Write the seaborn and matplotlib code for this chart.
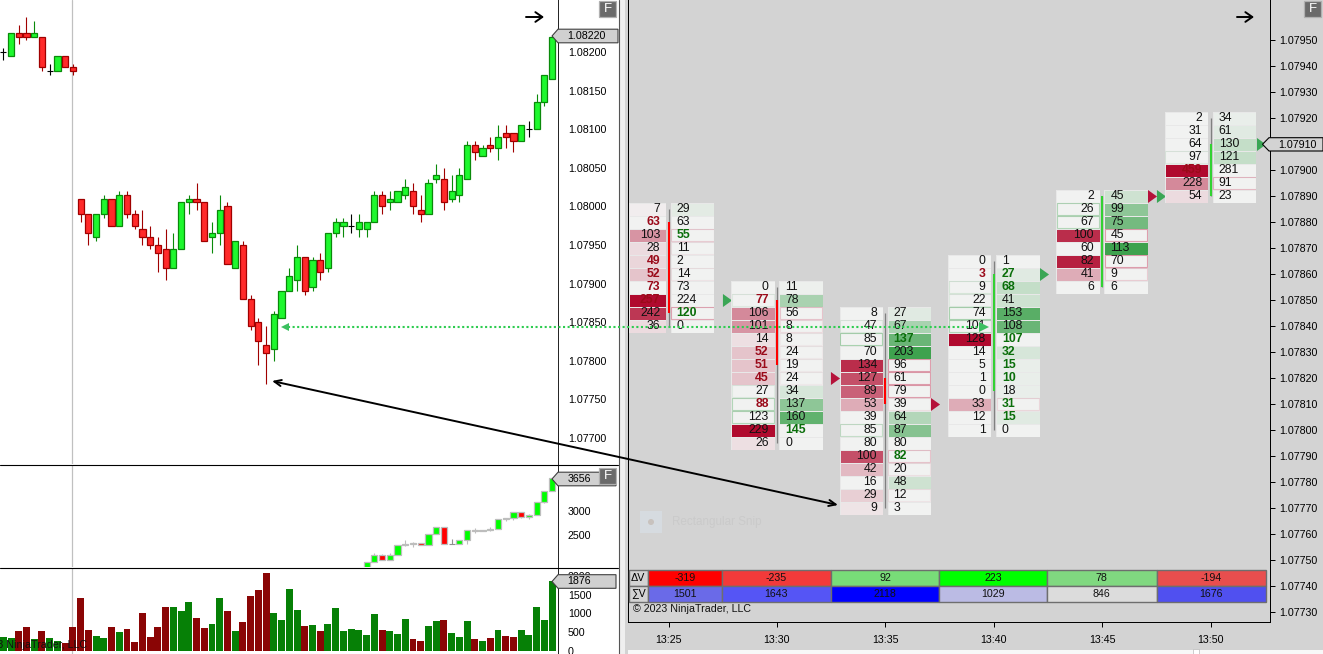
import matplotlib
matplotlib.use("Agg")
import matplotlib.pyplot as plt
from matplotlib.colors import LinearSegmentedColormap
from matplotlib.patches import Rectangle, Polygon, Circle
import numpy as np
import seaborn as sns

W, H = 1323, 654
PRICE_BASE = 1.08
PRICE_TICK = 0.00005

# left chart, candle bodies and wicks in ticks above 1.08000
body_top = [40,45,45,45,45,44,35,39,39,36,
            2,-2,-2,2,2,3,3,-2,-6,-8,
            -10,-11,-11,1,2,2,1,-7,-1,0,
            -9,-10,-24,-30,-36,-28,-22,-18,-13,-13,
            -14,-14,-7,-4,-4,-5,-4,-4,3,3,
            2,4,5,4,-1,6,8,7,4,8,
            16,16,15,16,18,19,19,21,20,27,
            34,44]
body_bot = [40,39,44,44,44,36,35,35,36,35,
            -2,-7,-8,-2,-5,-5,-2,-5,-8,-10,
            -12,-16,-16,-11,1,1,-9,-8,-7,-15,
            -16,-24,-31,-35,-38,-37,-29,-22,-19,-22,
            -21,-17,-16,-7,-5,-5,-6,-6,-4,0,
            1,1,3,0,-2,-2,7,1,2,3,
            7,14,13,15,15,18,17,17,20,20,
            27,33]
wick_high = [41,45,47,49,48,44,37,39,39,37,
             2,-2,-2,3,2,4,4,-1,-1,-5,
             -8,-6,-7,1,3,6,1,-4,3,1,
             -9,-9,-23,-29,-31,-27,-22,-16,-10,-13,
             -13,-12,-7,-3,-3,-2,-2,-4,4,4,
             4,4,7,6,3,7,11,10,8,10,
             17,17,16,18,21,21,19,21,22,29,
             34,44]
wick_low = [38,39,42,43,44,35,34,35,36,34,
            -4,-10,-9,-3,-5,-5,-3,-6,-10,-11,
            -17,-19,-16,-11,-2,-1,-9,-12,-10,-15,
            -16,-24,-32,-41,-46,-40,-29,-22,-22,-23,
            -22,-19,-17,-8,-8,-7,-8,-8,-4,-2,
            -1,1,2,-2,-4,-2,6,-1,1,1,
            7,12,13,14,12,15,14,17,18,20,
            26,33]
candle_dir = list("nuddudnudd" "dduududddd" "dduuudduud" "udddduuuud"
                  "uduuunuuud" "uuudduuduu" "udududdunu" "uu")

# middle chart, from candle 47 on
mid_first = 47
mid_dir = list("uuduuuuduudnuuduuuuuduuuu")
mid_top = [1966,2108,2108,2108,2310,2331,2351,2351,2534,2662,2662,2331,2412,2615,2615,2615,2628,2831,2858,2980,2980,2912,3183,3406,3656]
mid_bot = [1800,1966,2006,2006,2108,2297,2331,2310,2310,2534,2331,2331,2331,2412,2594,2594,2615,2628,2831,2858,2878,2878,2919,3183,3406]
mid_high = [1966,2141,2121,2141,2310,2405,2365,2351,2534,2662,2662,2425,2412,2615,2642,2615,2669,2831,2858,2980,2980,2932,3183,3406,3656]
mid_low = [1800,1966,2006,2006,2108,2283,2256,2310,2310,2534,2331,2331,2331,2331,2554,2594,2594,2628,2797,2817,2858,2838,2919,3162,3406]

volume = [367,340,529,636,314,529,340,260,206,636,
          1416,556,394,340,636,502,582,233,1012,367,
          636,1174,1174,1066,1308,878,609,717,1416,1066,
          529,770,1469,1631,2088,1012,824,1658,1093,663,
          690,529,717,1147,529,582,556,421,986,556,
          529,448,851,314,260,663,797,824,475,367,
          797,314,260,340,556,394,367,556,421,1174,
          824,1876]
volume_dir = list("uudduduudd" "dduududddd" "dduuudduud" "udddduuuud"
                  "uduuuuuuud" "uuudduuduu" "udududduuu" "uu")

# footprint clusters, one list per column
bid_1 = [7,63,103,28,49,52,73,257,242,36]
ask_1 = [29,63,55,11,2,14,73,224,120,0]
bid_shade_1 = [.02,0,.4,.1,.12,.2,0,1,.8,.1]
ask_shade_1 = [.08,0,0,0,0,0,0,0,0,0]
bid_bold_1 = [0,1,0,0,1,1,1,1,0,0]
ask_bold_1 = [0,0,1,0,0,0,0,0,1,0]
bid_edge_1 = [0,0,0,0,0,0,0,0,0,0]
ask_edge_1 = [0,0,.2,.08,0,.08,0,0,.4,0]

bid_2 = [0,77,106,101,14,52,51,45,27,88,123,229,26]
ask_2 = [11,78,56,8,8,24,19,24,34,137,160,145,0]
bid_shade_2 = [0,0,.45,.4,.08,.2,.2,.2,0,0,0,1,.08]
ask_shade_2 = [.03,.4,0,0,0,0,0,0,.15,.55,.8,0,0]
bid_bold_2 = [0,1,0,0,0,1,1,1,0,1,0,0,0]
ask_bold_2 = [0,0,0,0,0,0,0,0,0,0,0,1,0]
bid_edge_2 = [0,.1,0,0,0,0,0,0,.1,.35,.35,0,0]
ask_edge_2 = [0,0,.25,.12,.05,.05,.05,.05,0,0,0,0,0]

bid_3 = [8,47,85,70,134,127,89,53,39,85,80,100,42,16,29,9]
ask_3 = [27,67,137,203,96,61,79,39,64,87,80,82,20,48,12,3]
bid_shade_3 = [0,0,0,0,.85,.7,.62,.3,0,0,0,.7,.25,0,.15,.06]
ask_shade_3 = [.1,.4,.75,1,0,0,0,0,.35,.6,0,0,0,.2,0,0]
bid_bold_3 = [0]*16
ask_bold_3 = [0,0,1,0,0,0,0,0,0,0,0,1,0,0,0,0]
bid_edge_3 = [0,.1,.4,0,0,0,0,0,0,.25,0,0,0,0,0,0]
ask_edge_3 = [0,0,0,0,.45,.45,.45,.1,0,0,0,.25,.1,0,.08,0]

bid_4 = [0,3,9,22,74,101,128,14,5,1,0,33,12,1]
ask_4 = [1,27,68,41,153,108,107,32,15,10,18,31,15,0]
bid_shade_4 = [0,0,0,0,0,0,1,0,0,0,0,.3,0,0]
ask_shade_4 = [0,.1,.25,.2,.85,.75,0,.15,.05,.05,.05,0,.1,0]
bid_bold_4 = [0,1,0,0,0,0,0,0,0,0,0,0,0,0]
ask_bold_4 = [0,1,1,0,0,0,1,1,1,1,0,1,1,0]
bid_edge_4 = [0,0,.15,.1,.4,.35,0,0,0,0,0,0,0,0]
ask_edge_4 = [0,0,0,0,0,0,0,0,0,0,0,.15,0,0]

bid_5 = [2,26,67,100,60,82,41,6]
ask_5 = [45,99,75,45,113,70,9,6]
bid_shade_5 = [0,0,0,.85,0,.9,.3,0]
ask_shade_5 = [.2,.55,.7,0,1,0,0,0]
bid_bold_5 = [0]*8
ask_bold_5 = [0]*8
bid_edge_5 = [0,.35,.35,0,0,0,0,0]
ask_edge_5 = [0,0,0,.45,0,.45,.2,0]

bid_6 = [2,31,64,97,459,228,54]
ask_6 = [34,61,130,121,281,91,23]
bid_shade_6 = [0,0,0,0,1,.45,.1]
ask_shade_6 = [.05,.1,.25,.25,0,0,0]
bid_bold_6 = [0,0,0,0,1,0,0]
ask_bold_6 = [0]*7
bid_edge_6 = [0,0,0,.1,0,0,0]
ask_edge_6 = [0,0,0,0,0,.3,0]

cluster_min = [25,30,35,40,45,50]
cluster_top = [1.07885,1.07855,1.07845,1.07865,1.07890,1.07920]
range_low = [1.07840,1.07795,1.07770,1.07800,1.07855,1.07890]
body_high = [1.07880,1.07850,1.07820,1.07860,1.07890,1.07910]
body_low = [1.07845,1.07825,1.07810,1.07815,1.07855,1.07890]
body_col = ["#ff0000","#ff0000","#ff0000","#32d232","#32d232","#32d232"]

open_min = [30,35,50]
open_px = [1.07850,1.07820,1.07890]
open_col = ["#3aa655","#b5123a","#3aa655"]
close_min = [35,40,45,50]
close_px = [1.07810,1.07860,1.07890,1.07910]
close_col = ["#b5123a","#3aa655","#b5123a","#3aa655"]

delta_vals = [-319,-235,92,223,78,-194]
delta_cols = ["#ff0000","#f23a3a","#78dc78","#00ff00","#80d880","#e84e4e"]
sum_vals = [1501,1643,2118,1029,846,1676]
sum_cols = ["#6a6ae8","#5555f5","#0000ff","#bbbbe4","#dcdcdc","#5050f0"]
table_edges = [648,722,830.7,939.3,1047,1156.6,1266]

price_ticks = [1.077,1.0775,1.078,1.0785,1.079,1.0795,1.08,1.0805,1.081,1.0815,1.082,1.0825]
fp_ticks = [1.0773,1.0774,1.0775,1.0776,1.0777,1.0778,1.0779,1.078,1.0781,1.0782,1.0783,1.0784,
            1.0785,1.0786,1.0787,1.0788,1.0789,1.079,1.0791,1.0792,1.0793,1.0794,1.0795]
time_labels = ["13:25","13:30","13:35","13:40","13:45","13:50"]

sns.set_style("white")
plt.rcParams["font.family"] = ["Liberation Sans", "DejaVu Sans"]
plt.rcParams["axes.linewidth"] = 0.72
plt.rcParams["xtick.color"] = "black"
plt.rcParams["ytick.color"] = "black"
FS = 7.7
FS_CELL = 8.8
GREEN, GREEN_EDGE = "#1ef82e", "#0a8a0a"
RED, RED_EDGE = "#ff2a2a", "#a00000"


def box(x0, y0, x1, y1):
    return [x0 / W, 1 - y1 / H, (x1 - x0) / W, (y1 - y0) / H]


def draw_candles(ax, x, top, bot, high, low, dirs, colors, width=0.8):
    for d, i in enumerate(x):
        k = dirs[d]
        if k == "n":
            ax.vlines(i, low[d], high[d], color=colors["n"], lw=0.8)
            ax.hlines(top[d], i - 0.4, i + 0.4, color=colors["n"], lw=0.8)
            continue
        fill, edge = colors[k]
        ax.vlines(i, low[d], high[d], color=edge, lw=0.8, zorder=2)
        ax.bar(i, top[d] - bot[d], bottom=bot[d], width=width, color=fill, edgecolor=edge, linewidth=0.9, zorder=3)


fig = plt.figure(figsize=(W / 100, H / 100), dpi=100, facecolor="white")

# background strips
bg = fig.add_axes([0, 0, 1, 1], zorder=0)
bg.set_xlim(0, W)
bg.set_ylim(H, 0)
bg.axis("off")
bg.add_patch(Rectangle((619, 0), 6, H, color="#efefef", lw=0))
bg.add_patch(Rectangle((625, 0), W - 625, H, color="#d3d3d3", lw=0))
bg.add_patch(Rectangle((628, 650), W - 628, 4, color="#f8f8f8", lw=0))
bg.add_patch(Rectangle((1193, 649), 6, 5, color="#ffffff", ec="#bbbbbb", lw=0.5))

# left price panel
XL = (-3.3 / 7.73, (558 - 3.3) / 7.73)
ax_p = fig.add_axes(box(0, 0, 558, 464), zorder=1)
idx = np.arange(len(body_top))
price = lambda a: PRICE_BASE + np.array(a, dtype=float) * PRICE_TICK
pc = {"u": (GREEN, GREEN_EDGE), "d": (RED, RED_EDGE), "n": "black"}
ax_p.axvline((72 - 3.3) / 7.73, color="#c0c0c0", lw=0.9, zorder=1)
draw_candles(ax_p, idx, price(body_top), price(body_bot), price(wick_high), price(wick_low), candle_dir, pc)
ax_p.set_xlim(*XL)
ax_p.set_ylim(1.076662, 1.082673)
ax_p.set_xticks([])
ax_p.yaxis.tick_right()
ax_p.set_yticks(price_ticks)
ax_p.set_yticklabels(["%.5f" % t for t in price_ticks[:-1]] + [""], fontsize=FS)
ax_p.tick_params(axis="y", length=3.6, width=0.72, pad=3.5, right=True)
sns.despine(ax=ax_p, left=True, top=True, bottom=True, right=False)

# left middle panel
ax_m = fig.add_axes(box(0, 465, 558, 567), zorder=1)
ax_m.axvline((72 - 3.3) / 7.73, color="#c0c0c0", lw=0.9, zorder=1)
mc = {"u": ("#00ff00", "#bdbdbd"), "d": ("#ff0000", "#bdbdbd"), "n": "#909090"}
draw_candles(ax_m, np.arange(mid_first, mid_first + len(mid_top)), mid_top, mid_bot, mid_high, mid_low, mid_dir, mc)
ax_m.set_xlim(*XL)
ax_m.set_ylim(1858, 3927)
ax_m.set_xticks([])
ax_m.yaxis.tick_right()
ax_m.set_yticks([2000, 2500, 3000, 3500])
ax_m.set_yticklabels(["", "2500", "3000", ""], fontsize=FS)
ax_m.tick_params(axis="y", length=3.6, width=0.72, pad=3.5, right=True)
sns.despine(ax=ax_m, left=True, top=True, bottom=True, right=False)

# left volume panel
ax_v = fig.add_axes(box(0, 568, 558, 654), zorder=1)
ax_v.axvline((72 - 3.3) / 7.73, color="#c0c0c0", lw=0.9, zorder=0)
sns.barplot(x=idx, y=volume, hue=volume_dir, palette={"u": "#068006", "d": "#8a0505"},
            dodge=False, width=0.9, legend=False, saturation=1, linewidth=0, edgecolor="none", ax=ax_v, zorder=2)
ax_v.set_xlim(*XL)
ax_v.set_ylim(-89, 2223)
ax_v.set_xticks([])
ax_v.set_xlabel("")
ax_v.yaxis.tick_right()
ax_v.set_yticks([0, 500, 1000, 1500, 2000])
ax_v.set_yticklabels(["0", "500", "1000", "1500", "2000"], fontsize=FS)
ax_v.tick_params(axis="y", length=3.6, width=0.72, pad=3.5, right=True)
sns.despine(ax=ax_v, left=True, top=True, bottom=True, right=False)

# footprint panel
ax_f = fig.add_axes(box(628, 0, 1270, 622), zorder=1)
ax_f.set_facecolor("#d3d3d3")
PX_MIN = 21.68
ax_f.set_xlim(25 - 40.5 / PX_MIN, 25 + 601.5 / PX_MIN)
ax_f.set_ylim(1.0791 - 477.7 / 26 * 0.0001, 1.0791 + 144.3 / 26 * 0.0001)
ax_f.yaxis.tick_right()
ax_f.set_yticks(fp_ticks)
ax_f.set_yticklabels(["" if abs(t - 1.0791) < 1e-7 else "%.5f" % t for t in fp_ticks], fontsize=FS)
ax_f.set_xticks(cluster_min)
ax_f.set_xticklabels(time_labels, fontsize=FS)
ax_f.tick_params(axis="both", length=3.6, width=0.72, right=True, bottom=True)
ax_f.tick_params(axis="y", pad=3)
ax_f.tick_params(axis="x", pad=6)
for s in ["left", "right", "bottom"]:
    ax_f.spines[s].set_color("black")
ax_f.spines["top"].set_visible(False)
for m, hi, lo, bh, bl, col in zip(cluster_min, cluster_top, range_low, body_high, body_low, body_col):
    ax_f.vlines(m, lo, hi, color="#808080", lw=0.9)
    ax_f.vlines(m, bl, bh, color=col, lw=1.5)
tri = [(-0.7, -1), (0.7, 0), (-0.7, 1)]
for m, p, c in zip(open_min, open_px, open_col):
    ax_f.plot(m - 50 / PX_MIN, p, marker=tri, color=c, ms=9.4, mew=0, ls="")
for m, p, c in zip(close_min, close_px, close_col):
    ax_f.plot(m + 50 / PX_MIN, p, marker=tri, color=c, ms=9.4, mew=0, ls="")

# cells, one heatmap per column
cell_cmap = LinearSegmentedColormap.from_list("cells", ["#b00a2e", "#f2f2f2", "#3ea24e"])
col_data = [
    (bid_1, ask_1, bid_shade_1, ask_shade_1, bid_bold_1, ask_bold_1, bid_edge_1, ask_edge_1),
    (bid_2, ask_2, bid_shade_2, ask_shade_2, bid_bold_2, ask_bold_2, bid_edge_2, ask_edge_2),
    (bid_3, ask_3, bid_shade_3, ask_shade_3, bid_bold_3, ask_bold_3, bid_edge_3, ask_edge_3),
    (bid_4, ask_4, bid_shade_4, ask_shade_4, bid_bold_4, ask_bold_4, bid_edge_4, ask_edge_4),
    (bid_5, ask_5, bid_shade_5, ask_shade_5, bid_bold_5, ask_bold_5, bid_edge_5, ask_edge_5),
    (bid_6, ask_6, bid_shade_6, ask_shade_6, bid_bold_6, ask_bold_6, bid_edge_6, ask_edge_6),
]


def footprint_col(vals, shade, bold, edge, m, top, side):
    xc = 668.5 + (m - 25) * PX_MIN
    yt = 144.3 + (1.0791 - top) / 0.0001 * 26 - 6.5
    x0, x1 = (xc - 45.8, xc - 2.2) if side == "bid" else (xc + 2.2, xc + 45.8)
    x0 = max(x0, 628.5)
    cax = fig.add_axes(box(x0, yt, x1, yt + 13 * len(vals)), zorder=2)
    sign = -1 if side == "bid" else 1
    sns.heatmap(np.array(shade).reshape(-1, 1) * sign, ax=cax, cmap=cell_cmap, vmin=-1, vmax=1, cbar=False,
                xticklabels=False, yticklabels=False, linewidths=0.4, linecolor="#e8e8e8")
    w = x1 - x0
    for r, v in enumerate(vals):
        if side == "bid":
            tx, ha = 1 - 6 / w, "right"
            tc = "#9a0a1a"
        else:
            tx, ha = 6 / w, "left"
            tc = "#0a6e0a"
        if bold[r]:
            cax.text(tx, r + 0.5, str(v), ha=ha, va="center", fontsize=FS_CELL, color=tc, fontweight="bold")
        else:
            cax.text(tx, r + 0.5, str(v), ha=ha, va="center", fontsize=FS_CELL, color="#111111")
        if edge[r] > 0:
            ec = "#3ea24e" if side == "bid" else "#c8385a"
            cax.add_patch(Rectangle((0.015, r + 0.05), 0.97, 0.9, fill=False, ec=ec, lw=0.8, alpha=edge[r]))


for m, top, d in zip(cluster_min, cluster_top, col_data):
    footprint_col(d[0], d[2], d[4], d[6], m, top, "bid")
    footprint_col(d[1], d[3], d[5], d[7], m, top, "ask")

# overlay in pixel coordinates
ov = fig.add_axes([0, 0, 1, 1], zorder=5)
ov.set_xlim(0, W)
ov.set_ylim(H, 0)
ov.axis("off")
ov.plot([0, 618], [464.5, 464.5], color="black", lw=0.8)
ov.plot([0, 618], [567.5, 567.5], color="black", lw=0.8)
ov.plot([618.5, 618.5], [0, H], color="#555555", lw=0.8)

# dotted level
ov.plot([288, 983], [327, 327], color="#2ecc50", lw=1.5, ls=(0, (1, 1.2)))
ov.plot(285, 327, marker="<", color="#3cc060", ms=6, mew=0)
ov.plot(984, 327, marker=">", color="#3cc060", ms=6.5, mew=0)

# arrows
ov.annotate("", xy=(272, 381), xytext=(838, 505),
            arrowprops=dict(arrowstyle="<->,head_width=0.22,head_length=0.5", color="black", lw=1.4, shrinkA=0, shrinkB=0))
for x0, x1 in [(526, 544), (1237, 1254)]:
    ov.annotate("", xy=(x1, 17), xytext=(x0, 17),
                arrowprops=dict(arrowstyle="->,head_width=0.35,head_length=0.5", color="black", lw=1.4, shrinkA=0, shrinkB=0))

# snip ghost
ov.add_patch(Rectangle((640, 511), 22, 22, color="#d6dbe0", lw=0))
ov.add_patch(Circle((651, 522), 3, color="#c8c2be", lw=0))
ov.text(672, 522, "Rectangular Snip", fontsize=8.4, color="#cacaca", va="center")

# price flags
for x0, x1, yc, label, tx in [(552, 618, 36, "1.08220", 586), (552, 616, 479, "3656", 579), (552, 616, 581.5, "1876", 579)]:
    ov.add_patch(Polygon([(x0, yc), (x0 + 6, yc - 6.8), (x1, yc - 6.8), (x1, yc + 6.8), (x0 + 6, yc + 6.8)],
                         closed=True, fc="#d0d0d0", ec="#404040", lw=0.8))
    ov.text(tx, yc, label, ha="center", va="center", fontsize=FS, color="black")
ov.add_patch(Polygon([(1262.5, 144.3), (1269, 137.7), (1323, 137.7), (1323, 151), (1269, 151)],
                     closed=True, fc="#d3d3d3", ec="black", lw=0.8))
ov.text(1297, 144.5, "1.07910", ha="center", va="center", fontsize=FS, color="black")

# F buttons
for x0, y0 in [(599, 1), (599, 468), (1304, 1)]:
    ov.add_patch(Rectangle((x0, y0), 17, 16, fc="#6a6a6a", ec="#b0b0b0", lw=0.9))
    ov.text(x0 + 8.5, y0 + 8, "F", ha="center", va="center", fontsize=9.5, color="white")

# table
ROW1, ROW2, ROW3 = 569.5, 585.8, 602.2
ov.add_patch(Rectangle((628.5, ROW1), 19.5, ROW2 - ROW1, fc="#d3d3d3", ec="#6e6e6e", lw=1))
ov.add_patch(Rectangle((628.5, ROW2), 19.5, ROW3 - ROW2, fc="#d3d3d3", ec="#6e6e6e", lw=1))
ov.text(638.3, (ROW1 + ROW2) / 2, "\u0394V", ha="center", va="center", fontsize=FS, color="black")
ov.text(638.3, (ROW2 + ROW3) / 2, "\u2211V", ha="center", va="center", fontsize=FS, color="black")
for i in range(6):
    x0, x1 = table_edges[i], table_edges[i + 1]
    ov.add_patch(Rectangle((x0, ROW1), x1 - x0, ROW2 - ROW1, fc=delta_cols[i], ec="#6e6e6e", lw=1))
    ov.add_patch(Rectangle((x0, ROW2), x1 - x0, ROW3 - ROW2, fc=sum_cols[i], ec="#6e6e6e", lw=1))
    ov.text((x0 + x1) / 2, (ROW1 + ROW2) / 2, str(delta_vals[i]), ha="center", va="center", fontsize=FS, color="#111111")
    ov.text((x0 + x1) / 2, (ROW2 + ROW3) / 2, str(sum_vals[i]), ha="center", va="center", fontsize=FS, color="#111111")

ov.text(633, 608.5, "\u00a9 2023 NinjaTrader, LLC", va="center", fontsize=FS, color="#111111")
ov.text(87, 645, "\u00a9 2023 NinjaTrader, LLC", va="center", ha="right", fontsize=FS, color="#111111")

fig.savefig("out.png", dpi=100, facecolor="white")
